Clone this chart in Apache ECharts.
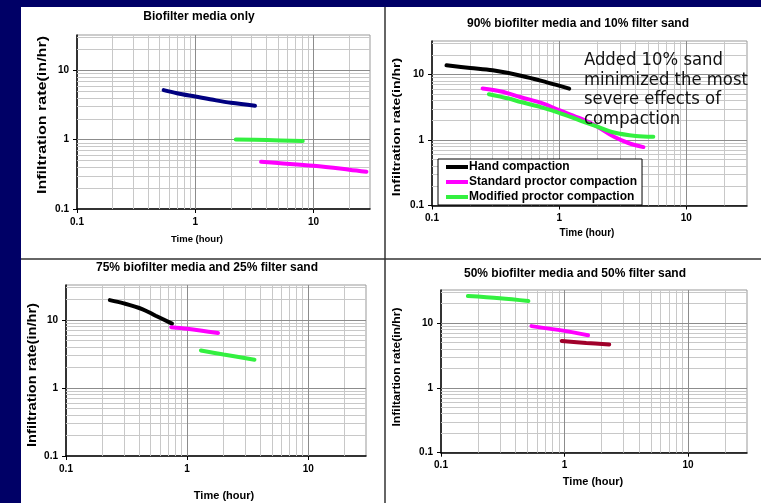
<!DOCTYPE html>
<html><head><meta charset="utf-8">
<script src="https://cdn.jsdelivr.net/npm/echarts@6/dist/echarts.min.js"></script>
<style>html,body{margin:0;padding:0;background:#000066}#c{width:761px;height:503px}</style>
</head><body><div id="c"></div><script>
// ---- data ----
const xTickValues = [0.1, 1, 10];
const yTickValues = [0.1, 1, 10];
const xMinorValues = [0.2,0.3,0.4,0.5,0.6,0.7,0.8,0.9,2,3,4,5,6,7,8,9,20];
const yMinorValues = [0.2,0.3,0.4,0.5,0.6,0.7,0.8,0.9,2,3,4,5,6,7,8,9,20,30];
const majorValues = [1, 10];
const panelTitles = ['Biofilter media only','90% biofilter media and 10% filter sand','75% biofilter media and 25% filter sand','50% biofilter media and 50% filter sand'];
const xAxisTitle = 'Time (hour)';
const yAxisTitles = ['Infiltration rate(in/hr)','Infiltration rate(in/hr)','Infiltration rate(in/hr)','Infiltartion rate(in/hr)'];
const legendNames = ['Hand compaction','Standard proctor compaction','Modified proctor compaction'];
const noteLines = ['Added 10% sand','minimized the most','severe effects of','compaction'];

// panel 1: Biofilter media only
const p1Navy = [[0.54,5.2],[0.7,4.7],[1,4.2],[1.5,3.7],[2,3.42],[3.2,3.1]];
const p1Green = [[2.2,1.01],[4,0.99],[8.1,0.96]];
const p1Magenta = [[3.6,0.48],[5,0.46],[10,0.42],[20,0.37],[28,0.345]];
// panel 2: 90/10
const p2Hand = [[0.13,13.8],[0.2,12.6],[0.3,11.6],[0.5,9.6],[0.8,7.6],[1.2,6.1]];
const p2Standard = [[0.25,6.1],[0.35,5.5],[0.5,4.5],[0.75,3.6],[1,2.85],[1.5,2.1],[2,1.6],[2.7,1.12],[3.5,0.9],[4.6,0.78]];
const p2Modified = [[0.28,5.0],[0.4,4.3],[0.5,3.8],[0.75,3.1],[1,2.6],[1.5,1.95],[2,1.6],[2.7,1.3],[4,1.15],[5.5,1.12]];
// panel 3: 75/25
const p3Black = [[0.23,19.5],[0.3,17.5],[0.43,14.3],[0.55,11.5],[0.75,8.8]];
const p3Magenta = [[0.74,7.8],[1,7.4],[1.8,6.4]];
const p3Green = [[1.3,3.55],[2,3.1],[3.6,2.6]];
// panel 4: 50/50
const p4Green = [[0.165,26.2],[0.3,24.3],[0.51,22]];
const p4Magenta = [[0.54,9.0],[1,7.6],[1.55,6.5]];
const p4DarkRed = [[0.95,5.3],[1.5,4.95],[2.3,4.7]];

// ---- layout ----
const FONT = "'Liberation Sans', Arial, sans-serif";
const grids = [
  {left:77, top:35, width:293, height:174},
  {left:432, top:41, width:315, height:164.5},
  {left:66, top:285, width:300, height:171},
  {left:441, top:290, width:306, height:162.7}
];
const titlePos = [[199,17],[578,24],[207,268],[575,274]];
const xTitlePos = [[197,239],[587,233],[224,496],[593,482]];
const xTitleSize = [9.5, 10, 11, 11];
const yTitlePos = [[43,115],[397,127],[33,375],[397,367]];
const yTitleSize = [12, 11, 12, 11];
const yTitleStretch = [1.34, 1.28, 1.22, 1.1];
const X_MIN = 0.1, X_MAX = 30, Y_MIN = 0.1, Y_MAX = 32.5;

const chart = echarts.init(document.getElementById('c'));
const fmt = v => String(Math.round(v*1000)/1000);

const xAxes = grids.map((g,i) => ({
  type:'log', logBase:10, min:X_MIN, max:X_MAX, gridIndex:i,
  axisLine:{show:true, onZero:false, lineStyle:{color:'#000', width:1.5}},
  axisTick:{show:true, length:4, customValues:xTickValues, lineStyle:{color:'#000', width:1}},
  axisLabel:{customValues:xTickValues, formatter:fmt, fontSize:10, fontWeight:'bold', color:'#000', margin:8, fontFamily:FONT},
  splitLine:{show:false}, minorTick:{show:false}
}));
const yAxes = grids.map((g,i) => ({
  type:'log', logBase:10, min:Y_MIN, max:Y_MAX, gridIndex:i,
  axisLine:{show:true, onZero:false, lineStyle:{color:'#000', width:1.5}},
  axisTick:{show:true, length:4, customValues:yTickValues, lineStyle:{color:'#000', width:1}},
  axisLabel:{customValues:yTickValues, formatter:fmt, fontSize:10, fontWeight:'bold', color:'#000', margin:8, fontFamily:FONT},
  splitLine:{show:false}, minorTick:{show:false}
}));

function gridLinesSeries(i){
  const minor = {color:'#c8c8c8', width:1, type:'solid'};
  const major = {color:'#8c8c8c', width:1, type:'solid'};
  const d = [];
  xMinorValues.forEach(v => d.push({xAxis:v, lineStyle:minor}));
  yMinorValues.forEach(v => d.push({yAxis:v, lineStyle:minor}));
  majorValues.forEach(v => { d.push({xAxis:v, lineStyle:major}); d.push({yAxis:v, lineStyle:major}); });
  return {type:'line', name:'grid'+i, xAxisIndex:i, yAxisIndex:i, data:[], z:1, silent:true,
    markLine:{silent:true, symbol:['none','none'], label:{show:false}, animation:false, data:d}};
}
function dataSeries(i, name, data, color){
  return {type:'line', name:name, xAxisIndex:i, yAxisIndex:i, data:data, z:10, smooth:0.35,
    showSymbol:false, symbol:'none', lineStyle:{color:color, width:4, cap:'round'}, itemStyle:{color:color}, animation:false};
}
const NAVY='#000080', GREEN='#33f040', MAGENTA='#ff00ff', BLACK='#000000', DARKRED='#a0002a';
const series = [
  gridLinesSeries(0), gridLinesSeries(1), gridLinesSeries(2), gridLinesSeries(3),
  dataSeries(0,'p1 navy',p1Navy,NAVY),
  dataSeries(0,'p1 green',p1Green,GREEN),
  dataSeries(0,'p1 magenta',p1Magenta,MAGENTA),
  dataSeries(1,legendNames[0],p2Hand,BLACK),
  dataSeries(1,legendNames[1],p2Standard,MAGENTA),
  dataSeries(1,legendNames[2],p2Modified,GREEN),
  dataSeries(2,'p3 black',p3Black,BLACK),
  dataSeries(2,'p3 magenta',p3Magenta,MAGENTA),
  dataSeries(2,'p3 green',p3Green,GREEN),
  dataSeries(3,'p4 green',p4Green,GREEN),
  dataSeries(3,'p4 magenta',p4Magenta,MAGENTA),
  dataSeries(3,'p4 darkred',p4DarkRed,DARKRED)
];

const graphics = [
  {type:'rect', shape:{x:21, y:7, width:740, height:496}, style:{fill:'#ffffff'}, z:-100, silent:true},
  {type:'line', shape:{x1:385, y1:7, x2:385, y2:503}, style:{stroke:'#333', lineWidth:1.5}, z:-50, silent:true},
  {type:'line', shape:{x1:21, y1:259, x2:761, y2:259}, style:{stroke:'#333', lineWidth:1.5}, z:-50, silent:true}
];
panelTitles.forEach((t,i) => {
  graphics.push({type:'text', x:titlePos[i][0], y:titlePos[i][1], z:50,
    style:{text:t, font:'bold 12px '+FONT, fill:'#000', align:'center', verticalAlign:'middle'}});
  graphics.push({type:'text', x:xTitlePos[i][0], y:xTitlePos[i][1], z:50,
    style:{text:xAxisTitle, font:'bold '+xTitleSize[i]+'px '+FONT, fill:'#000', align:'center', verticalAlign:'middle'}});
  graphics.push({type:'text', x:yTitlePos[i][0], y:yTitlePos[i][1], rotation:Math.PI/2, scaleX:yTitleStretch[i], z:50,
    style:{text:yAxisTitles[i], font:'bold '+yTitleSize[i]+'px '+FONT, fill:'#000', align:'center', verticalAlign:'middle'}});
});
graphics.push({type:'text', x:584, y:51, z:60,
  style:{text:noteLines.join('\n'), font:"18.3px 'DejaVu Sans Condensed', 'DejaVu Sans', sans-serif", lineHeight:19.5, fill:'#111', align:'left', verticalAlign:'top'}});

chart.setOption({
  backgroundColor:'#000066',
  animation:false,
  grid: grids.map(g => Object.assign({show:true, borderColor:'#999', borderWidth:1, backgroundColor:'transparent'}, g)),
  xAxis:xAxes, yAxis:yAxes,
  legend:{data:legendNames, orient:'vertical', left:438, top:159, z:20,
    backgroundColor:'#fff', borderColor:'#000', borderWidth:1, padding:[1,5,1,8],
    itemWidth:22, itemHeight:4, itemGap:1, icon:'rect', selectedMode:false,
    textStyle:{fontSize:12, fontWeight:'bold', color:'#000', fontFamily:FONT, lineHeight:14, padding:[0,0,0,-4]}},
  series:series,
  graphic:{elements:graphics}
});
</script></body></html>
